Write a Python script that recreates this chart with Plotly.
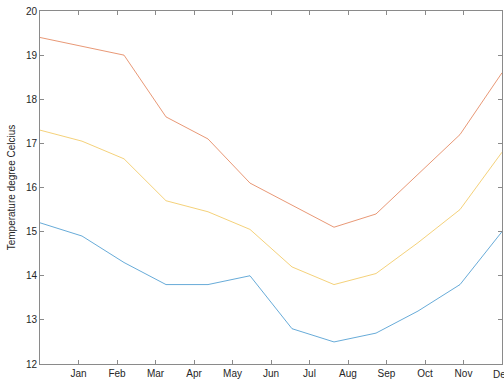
import numpy as np
import plotly.graph_objects as go

# Monthly temperatures (degree Celsius)
tick_labels = ["Jan", "Feb", "Mar", "Apr", "May", "Jun",
               "Jul", "Aug", "Sep", "Oct", "Nov", "Dec"]
temp_low = [15.2, 14.9, 14.3, 13.8, 13.8, 14.0, 12.8, 12.5, 12.7, 13.2, 13.8, 15.0]
temp_mean = [17.3, 17.05, 16.65, 15.7, 15.45, 15.05, 14.2, 13.8, 14.05, 14.75, 15.5, 16.8]
temp_high = [19.4, 19.2, 19.0, 17.6, 17.1, 16.1, 15.6, 15.1, 15.4, 16.3, 17.2, 18.6]

# samples span the whole year evenly; month ticks sit at month ends
x = np.linspace(0, 12, len(temp_low))
tick_pos = list(range(1, 13))

fig = go.Figure()
for ys, c in [(temp_low, "#0072BD"), (temp_high, "#D95319"), (temp_mean, "#EDB120")]:
    fig.add_trace(go.Scatter(x=x, y=ys, mode="lines",
                             line=dict(color=c, width=0.6), showlegend=False))

label_font = dict(family="Liberation Sans", size=10, color="#262626")
axis_common = dict(showline=True, linecolor="#8a8a8a", linewidth=1,
                   mirror="allticks", ticks="inside", ticklen=4,
                   tickcolor="#8a8a8a", showgrid=False, zeroline=False,
                   automargin=False, tickfont=label_font)

# the last month's label sits on the right edge of the axes
fig.update_xaxes(range=[0, 12], tickvals=tick_pos[:-1], ticktext=tick_labels[:-1],
                 **axis_common)
fig.add_annotation(x=tick_pos[-1], y=0, xref="x", yref="paper", yanchor="top",
                   yshift=-3, text=tick_labels[-1], showarrow=False, font=label_font)
fig.update_yaxes(range=[12, 20], tickvals=list(range(12, 21)),
                 title=dict(text="Temperature degree Celcius", standoff=8,
                            font=label_font),
                 **axis_common)

fig.update_layout(width=504, height=383,
                  margin=dict(l=40, r=2, t=11, b=19),
                  plot_bgcolor="white", paper_bgcolor="white",
                  font=dict(family="Liberation Sans", size=10))

fig.write_html("out.html")
